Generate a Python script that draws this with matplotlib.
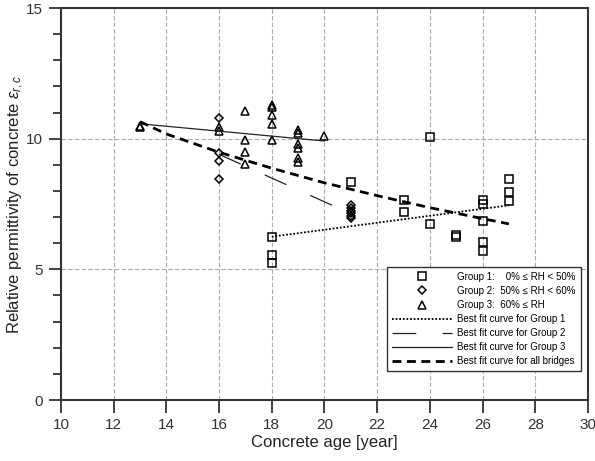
import numpy as np
import matplotlib.pyplot as plt
from matplotlib.ticker import MultipleLocator

plt.rcParams['font.family'] = ['Liberation Sans', 'DejaVu Sans']
plt.rcParams['mathtext.fontset'] = 'custom'
plt.rcParams['mathtext.rm'] = 'Liberation Sans'
plt.rcParams['mathtext.it'] = 'Liberation Sans:italic'

# group 1: 0% <= RH < 50%
g1_age = [18, 18, 18, 21, 23, 23, 24, 24, 25, 25, 26, 26, 26, 26, 26, 27, 27, 27]
g1_eps = [6.25, 5.55, 5.25, 8.35, 7.65, 7.2, 10.05, 6.75, 6.25, 6.3,
          7.65, 7.5, 6.85, 6.05, 5.7, 8.45, 7.95, 7.6]

# group 2: 50% <= RH < 60%
g2_age = [16, 16, 16, 16, 21, 21, 21, 21, 21, 21]
g2_eps = [10.8, 9.45, 9.15, 8.45, 7.45, 7.35, 7.25, 7.15, 7.05, 6.95]

# group 3: 60% <= RH
g3_age = [13, 13, 16, 16, 17, 17, 17, 17, 18, 18, 18, 18, 18,
          19, 19, 19, 19, 19, 19, 20]
g3_eps = [10.45, 10.5, 10.45, 10.3, 11.05, 9.95, 9.5, 9.05, 11.3, 11.2, 10.9, 10.55, 9.95,
          10.35, 10.2, 9.8, 9.65, 9.25, 9.1, 10.1]

# best fit curves
fit1_age = [18, 27]
fit1_eps = [6.25, 7.45]
fit2_age = [16, 21]
fit2_eps = [9.40, 7.13]
fit3_age = [13, 20]
fit3_eps = [10.57, 9.91]
fitall_age = [13, 14, 16, 18, 20, 22, 24, 26, 27]
fitall_eps = [10.65, 10.18, 9.48, 8.87, 8.31, 7.82, 7.36, 6.94, 6.74]

fig = plt.figure(figsize=(5.95, 4.61), dpi=100)
ax = fig.add_axes([0.1025, 0.1323, 0.8857, 0.8503])

ax.grid(True, which='major', color='#aaaaaa', linestyle=(0, (4, 2)), linewidth=0.8)
ax.set_axisbelow(True)

mk = dict(linestyle='none', markerfacecolor='none', markeredgecolor='black',
          markeredgewidth=1.1, markersize=5.5)
h1, = ax.plot(g1_age, g1_eps, marker='s', **mk)
h2, = ax.plot(g2_age, g2_eps, marker='D', **dict(mk, markersize=4.5))
h3, = ax.plot(g3_age, g3_eps, marker='^', **mk)

l1, = ax.plot(fit1_age, fit1_eps, color='black', linewidth=1.3, linestyle=(0, (1, 1)))
l2, = ax.plot(fit2_age, fit2_eps, color='#222222', linewidth=0.9, linestyle=(0, (19, 21)))
l3, = ax.plot(fit3_age, fit3_eps, color='#222222', linewidth=0.9, linestyle='-')
l4, = ax.plot(fitall_age, fitall_eps, color='black', linewidth=2.0, linestyle=(0, (3.2, 2)))

ax.set_xlim(10, 30)
ax.set_ylim(0, 15)
ax.xaxis.set_major_locator(MultipleLocator(2))
ax.yaxis.set_major_locator(MultipleLocator(5))
ax.yaxis.set_minor_locator(MultipleLocator(1))
ax.tick_params(which='major', direction='out', length=9, width=1.3, labelsize=11,
               colors='#333333', pad=4)
ax.tick_params(which='minor', direction='out', length=5.5, width=1.3, colors='#333333')
for s in ax.spines.values():
    s.set_linewidth(1.5)
    s.set_color('#333333')

ax.set_xlabel('Concrete age [year]', fontsize=12, color='#222222', labelpad=2)
ax.set_ylabel(r'Relative permittivity of concrete $\varepsilon_{r,c}$', fontsize=12,
              color='#222222', labelpad=0)

labels = ['Group 1:    0% ≤ RH < 50%',
          'Group 2:  50% ≤ RH < 60%',
          'Group 3:  60% ≤ RH',
          'Best fit curve for Group 1',
          'Best fit curve for Group 2',
          'Best fit curve for Group 3',
          'Best fit curve for all bridges']
leg = ax.legend([h1, h2, h3, l1, l2, l3, l4], labels, loc='upper left',
                bbox_to_anchor=(0.61, 0.352), fontsize=7, numpoints=1,
                handlelength=6.2, handletextpad=0.5, labelspacing=0.42,
                borderpad=0.5, fancybox=False, framealpha=1, edgecolor='#333333')
leg.get_frame().set_linewidth(1.0)

fig.savefig('out.png', dpi=100)
